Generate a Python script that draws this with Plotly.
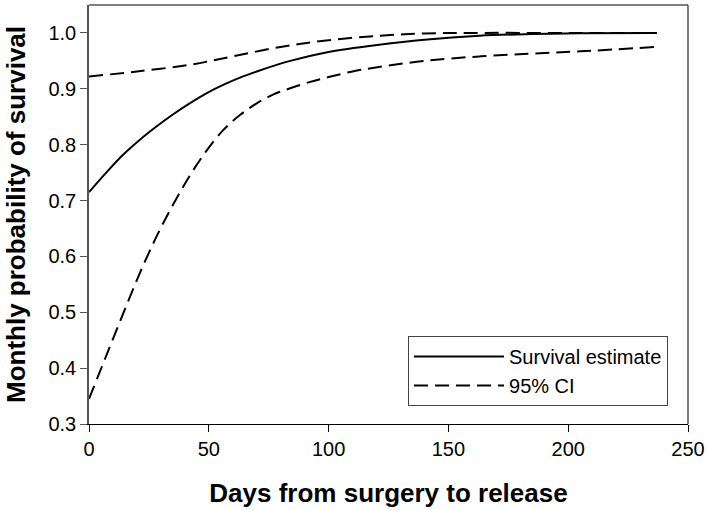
import plotly.graph_objects as go

# Survival estimate
est_days = [0, 7, 14, 21, 28, 35, 42, 49, 56, 63, 70, 77, 84, 100, 121, 140, 163, 185, 205, 237]
est_vals = [0.715, 0.749, 0.781, 0.808, 0.832, 0.854, 0.874, 0.892, 0.907, 0.920, 0.931, 0.941,
            0.950, 0.966, 0.979, 0.988, 0.995, 0.998, 0.9995, 1.0]

# Upper 95% CI
up_days = [0, 20, 42, 60, 80, 100, 121, 140, 160, 200, 237]
up_vals = [0.922, 0.931, 0.943, 0.958, 0.975, 0.987, 0.995, 0.999, 1.0, 1.0, 1.0]

# Lower 95% CI
lo_days = [0, 7, 14, 21, 28, 35, 42, 49, 56, 63, 70, 77, 84, 92, 100, 110, 121, 140, 163, 185, 205, 237]
lo_vals = [0.345, 0.420, 0.495, 0.568, 0.634, 0.692, 0.744, 0.789, 0.826, 0.853, 0.874, 0.890,
           0.901, 0.912, 0.921, 0.931, 0.939, 0.950, 0.958, 0.963, 0.967, 0.975]

x_ticks = [0, 50, 100, 150, 200, 250]
y_ticks = [0.3, 0.4, 0.5, 0.6, 0.7, 0.8, 0.9, 1.0]

FONT = "Arial, Liberation Sans, sans-serif"
DASH = "14px,7px"

fig = go.Figure()
fig.add_trace(go.Scatter(x=est_days, y=est_vals, mode="lines", name="Survival estimate",
                         line=dict(color="black", width=2, shape="spline")))
fig.add_trace(go.Scatter(x=up_days, y=up_vals, mode="lines", name="95% CI",
                         line=dict(color="black", width=2, dash=DASH, shape="spline")))
fig.add_trace(go.Scatter(x=lo_days, y=lo_vals, mode="lines", name="95% CI lower", showlegend=False,
                         line=dict(color="black", width=2, dash=DASH, shape="spline")))

fig.update_layout(
    width=708, height=510,
    margin=dict(l=89, r=20, t=5, b=86),
    paper_bgcolor="white", plot_bgcolor="white",
    font=dict(family=FONT, size=20, color="black"),
    showlegend=True,
    legend=dict(x=0.5326, y=0.21, xanchor="left", yanchor="top",
                bordercolor="#444", borderwidth=1, bgcolor="white",
                font=dict(size=20), itemwidth=90, tracegroupgap=0),
    xaxis=dict(range=[0, 250], tickvals=x_ticks, ticks="outside", ticklen=7, tickwidth=1,
               tickcolor="black", showline=True, linecolor="black", linewidth=1,
               showgrid=False, zeroline=False, automargin=False,
               title=dict(text="<b>Days from surgery to release</b>", font=dict(size=26), standoff=24)),
    yaxis=dict(range=[0.3, 1.05], tickvals=y_ticks, tickformat=".1f", ticks="outside", ticklen=7,
               tickwidth=1, tickcolor="#555", showline=True, linecolor="#555", linewidth=1.5,
               showgrid=False, zeroline=False, automargin=False,
               title=dict(text="<b>Monthly probability of survival</b>", font=dict(size=26), standoff=15)),
    shapes=[
        dict(type="line", xref="paper", yref="paper", x0=0, x1=1, y0=1, y1=1,
             line=dict(color="#555", width=1.5)),
        dict(type="line", xref="paper", yref="paper", x0=1, x1=1, y0=0, y1=1,
             line=dict(color="black", width=1)),
    ],
)

fig.write_html("out.html", config={"displayModeBar": False},
               post_script="document.body.style.margin='0';document.body.style.overflow='hidden';")
